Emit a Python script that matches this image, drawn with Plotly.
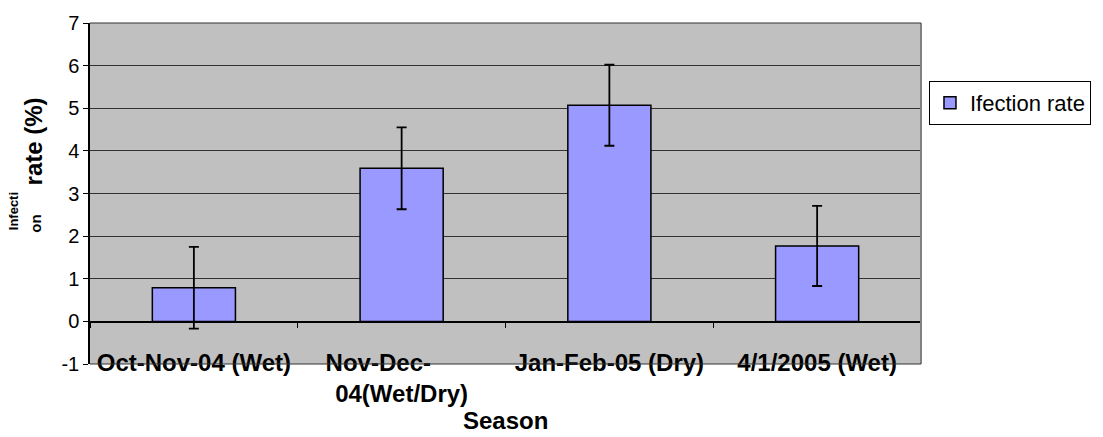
import plotly.graph_objects as go

categories = ["Oct-Nov-04 (Wet)", "Nov-Dec-04(Wet/Dry)", "Jan-Feb-05 (Dry)", "4/1/2005 (Wet)"]
tick_labels = ["Oct-Nov-04 (Wet)", "Nov-Dec-\u00a0\u00a0\u00a0\u00a0\u00a0\u00a0\u00a0<br>04(Wet/Dry)", "Jan-Feb-05 (Dry)", "4/1/2005 (Wet)"]
values = [0.79, 3.59, 5.07, 1.77]
errors = [0.96, 0.96, 0.95, 0.94]
series_name = "Ifection rate"
y_ticks = [-1, 0, 1, 2, 3, 4, 5, 6, 7]

FONT = "Arial, Liberation Sans, sans-serif"

fig = go.Figure()
fig.add_trace(go.Bar(
    x=categories, y=values, name=series_name,
    marker=dict(color="#9999FF", line=dict(color="black", width=1.5)),
    error_y=dict(type="data", array=errors, visible=True, color="black",
                 thickness=1.8, width=5),
    showlegend=True,
))

fig.update_layout(
    width=1103, height=437,
    margin=dict(l=90, r=177, t=17, b=73),
    paper_bgcolor="white", plot_bgcolor="#C0C0C0",
    bargap=0.6,
    font=dict(family=FONT, color="black"),
    showlegend=True,
    legend=dict(x=1.0096, y=0.83, xanchor="left", yanchor="top",
                bordercolor="black", borderwidth=1, bgcolor="white",
                font=dict(size=22, family=FONT), itemwidth=30,
                tracegroupgap=0),
)

fig.update_yaxes(
    range=[-1, 7], tickvals=y_ticks, ticktext=[str(v) for v in y_ticks],
    showgrid=True, gridcolor="#333333", gridwidth=1.2,
    zeroline=True, zerolinecolor="black", zerolinewidth=1.2,
    showline=True, linecolor="black", linewidth=1.5,
    ticks="outside", ticklen=5, tickcolor="black",
    tickfont=dict(size=20, family=FONT),
)

fig.update_xaxes(
    type="category", tickvals=categories, ticktext=tick_labels,
    anchor="free", position=43 / 347,
    showline=True, linecolor="black", linewidth=1.2,
    ticks="outside", ticklen=5, tickcolor="black", tickson="boundaries",
    tickangle=0, ticklabelstandoff=19,
    tickfont=dict(size=24, family=FONT, weight="bold"),
    showgrid=False,
)

# plot-area right/top/bottom frame
fig.add_shape(type="line", xref="paper", yref="paper", x0=1, x1=1, y0=0, y1=1,
              line=dict(color="#808080", width=2))
fig.add_shape(type="line", xref="paper", yref="paper", x0=0, x1=1, y0=1, y1=1,
              line=dict(color="#333333", width=1.2))
fig.add_shape(type="line", xref="paper", yref="paper", x0=0, x1=1, y0=0, y1=0,
              line=dict(color="#333333", width=1.2))

# axis titles
fig.add_annotation(text="<b>Season</b>", xref="paper", yref="paper",
                   x=0.5, y=-(422 - 364) / 347, xanchor="center", yanchor="middle",
                   showarrow=False, font=dict(size=24, family=FONT))
fig.add_annotation(text="<b>rate (%)</b>", xref="paper", yref="paper",
                   x=-0.068, y=(364 - 137) / 347, xanchor="center", yanchor="middle",
                   textangle=-90, showarrow=False, font=dict(size=24, family=FONT))
fig.add_annotation(text="<b>on</b>", xref="paper", yref="paper",
                   x=-0.066, y=(364 - 221) / 347, xanchor="center", yanchor="middle",
                   textangle=-90, showarrow=False, font=dict(size=15, family=FONT))
fig.add_annotation(text="<b>Infecti</b>", xref="paper", yref="paper",
                   x=-0.092, y=(364 - 209) / 347, xanchor="center", yanchor="middle",
                   textangle=-90, showarrow=False, font=dict(size=13, family=FONT))

fig.write_html("out.html", config={"displayModeBar": False},
               post_script="document.body.style.margin='0';document.body.style.overflow='hidden';")
